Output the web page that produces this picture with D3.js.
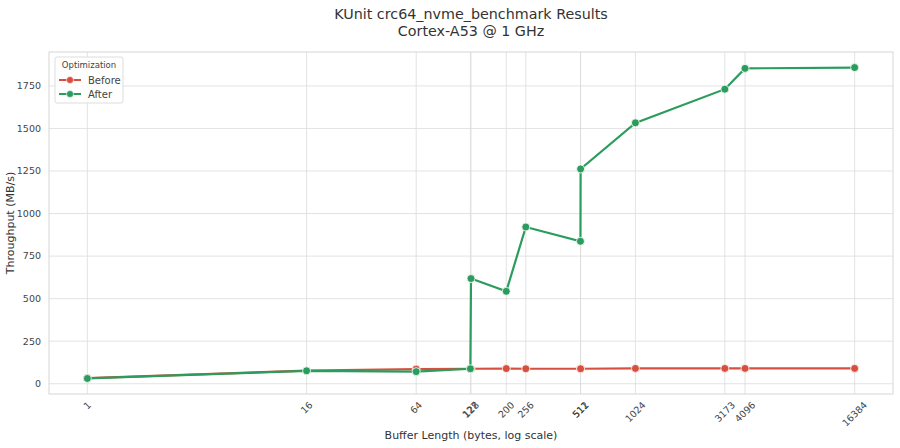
<!DOCTYPE html>
<html>
<head>
<meta charset="utf-8">
<script src="https://cdn.jsdelivr.net/npm/d3@7"></script>
<style>
  body { margin: 0; background: #fff; }
  svg { font-family: "DejaVu Sans", sans-serif; display: block; }
  .grid line { stroke: #dcdcdc; stroke-width: 0.8; }
  .tick-label { fill: #444; font-size: 9.5px; }
</style>
</head>
<body>
<div id="chart"></div>
<script>
const lengths = [1, 16, 64, 127, 128, 200, 256, 511, 512, 1024, 3173, 4096, 16384];
const beforeVals = [33, 77, 86, 88, 88, 89, 88, 88, 88, 90, 90, 90, 90];
const afterVals = [31, 76, 71, 88, 618, 543, 921, 837, 1262, 1533, 1731, 1853, 1858];
const yTicks = [0, 250, 500, 750, 1000, 1250, 1500, 1750];
const seriesNames = ["Before", "After"];
const seriesColors = ["#d6503f", "#2b9c5d"];

const width = 900, height = 448;
const margin = { top: 52, right: 7, bottom: 54, left: 49 };
const innerWidth = width - margin.left - margin.right;
const innerHeight = height - margin.top - margin.bottom;

const series = [
  { name: seriesNames[0], color: seriesColors[0], values: lengths.map((x, i) => ({ x, y: beforeVals[i] })) },
  { name: seriesNames[1], color: seriesColors[1], values: lengths.map((x, i) => ({ x, y: afterVals[i] })) }
];

const svg = d3.select("#chart")
  .append("svg")
  .attr("width", width)
  .attr("height", height)
  .attr("viewBox", `0 0 ${width} ${height}`);

const inner = svg.append("g")
  .attr("transform", `translate(${margin.left},${margin.top})`);

// scales (5% padding like matplotlib autoscale)
const lx = [Math.log2(1), Math.log2(16384)];
const padX = (lx[1] - lx[0]) * 0.05;
const xScale = d3.scaleLog().base(2)
  .domain([Math.pow(2, lx[0] - padX), Math.pow(2, lx[1] + padX)])
  .range([0, innerWidth]);

const yMin = d3.min([...beforeVals, ...afterVals]);
const yMax = d3.max([...beforeVals, ...afterVals]);
const padY = (yMax - yMin) * 0.05;
const yScale = d3.scaleLinear()
  .domain([yMin - padY, yMax + padY])
  .range([innerHeight, 0]);

// grid
inner.append("g").attr("class", "grid")
  .selectAll("line")
  .data(yTicks)
  .join("line")
  .attr("x1", 0).attr("x2", innerWidth)
  .attr("y1", d => yScale(d)).attr("y2", d => yScale(d));

inner.append("g").attr("class", "grid")
  .selectAll("line")
  .data(lengths)
  .join("line")
  .attr("y1", 0).attr("y2", innerHeight)
  .attr("x1", d => xScale(d)).attr("x2", d => xScale(d));

// frame
inner.append("rect")
  .attr("width", innerWidth).attr("height", innerHeight)
  .attr("fill", "none").attr("stroke", "#d6d6d6").attr("stroke-width", 1);

// y tick labels
inner.append("g")
  .selectAll("text")
  .data(yTicks)
  .join("text")
  .attr("class", "tick-label")
  .attr("x", -8)
  .attr("y", d => yScale(d))
  .attr("dy", "0.35em")
  .attr("text-anchor", "end")
  .text(d => d);

// x tick labels, rotated 45 and centered on tick
const xl = inner.append("g");
lengths.forEach(d => {
  const t = xl.append("text")
    .attr("class", "tick-label")
    .attr("text-anchor", "middle")
    .attr("dy", "0.35em")
    .text(d);
  const w = t.node().getComputedTextLength();
  const h = 9.5;
  const bh = (w + h) * Math.SQRT1_2;
  t.attr("transform", `translate(${xScale(d)},${innerHeight + 6 + bh / 2}) rotate(-45)`);
});

// lines
const line = d3.line()
  .x(d => xScale(d.x))
  .y(d => yScale(d.y));

series.forEach(s => {
  inner.append("path")
    .datum(s.values)
    .attr("fill", "none")
    .attr("stroke", s.color)
    .attr("stroke-width", 2.2)
    .attr("d", line);
  inner.append("g")
    .selectAll("circle")
    .data(s.values)
    .join("circle")
    .attr("cx", d => xScale(d.x))
    .attr("cy", d => yScale(d.y))
    .attr("r", 4)
    .attr("fill", s.color)
    .attr("stroke", "#fff")
    .attr("stroke-width", 0.8);
});

// title
svg.append("text")
  .attr("x", margin.left + innerWidth / 2)
  .attr("y", 19)
  .attr("text-anchor", "middle")
  .attr("font-size", "14.3px")
  .attr("fill", "#333")
  .text("KUnit crc64_nvme_benchmark Results");
svg.append("text")
  .attr("x", margin.left + innerWidth / 2)
  .attr("y", 36)
  .attr("text-anchor", "middle")
  .attr("font-size", "14.3px")
  .attr("fill", "#333")
  .text("Cortex-A53 @ 1 GHz");

// axis labels
svg.append("text")
  .attr("x", margin.left + innerWidth / 2)
  .attr("y", height - 9)
  .attr("text-anchor", "middle")
  .attr("font-size", "11px")
  .attr("fill", "#333")
  .text("Buffer Length (bytes, log scale)");

svg.append("text")
  .attr("transform", "rotate(-90)")
  .attr("x", -(margin.top + innerHeight / 2))
  .attr("y", 14)
  .attr("text-anchor", "middle")
  .attr("font-size", "11px")
  .attr("fill", "#333")
  .text("Throughput (MB/s)");

// legend
const legend = svg.append("g")
  .attr("transform", `translate(${margin.left + 6}, ${margin.top + 5})`);

legend.append("rect")
  .attr("width", 68).attr("height", 46)
  .attr("rx", 2)
  .attr("fill", "#fff").attr("fill-opacity", 0.85)
  .attr("stroke", "#ddd");

legend.append("text")
  .attr("x", 34).attr("y", 11)
  .attr("text-anchor", "middle")
  .attr("font-size", "8.5px")
  .attr("fill", "#444")
  .text("Optimization");

const items = legend.selectAll("g")
  .data(series)
  .join("g")
  .attr("transform", (d, i) => `translate(4, ${23 + i * 14})`);

items.append("line")
  .attr("x1", 0).attr("x2", 22)
  .attr("stroke", d => d.color)
  .attr("stroke-width", 2);
items.append("circle")
  .attr("cx", 11).attr("r", 3.5)
  .attr("fill", d => d.color)
  .attr("stroke", "#fff").attr("stroke-width", 0.6);
items.append("text")
  .attr("x", 29).attr("dy", "0.35em")
  .attr("font-size", "10px")
  .attr("fill", "#444")
  .text(d => d.name);
</script>
</body>
</html>
